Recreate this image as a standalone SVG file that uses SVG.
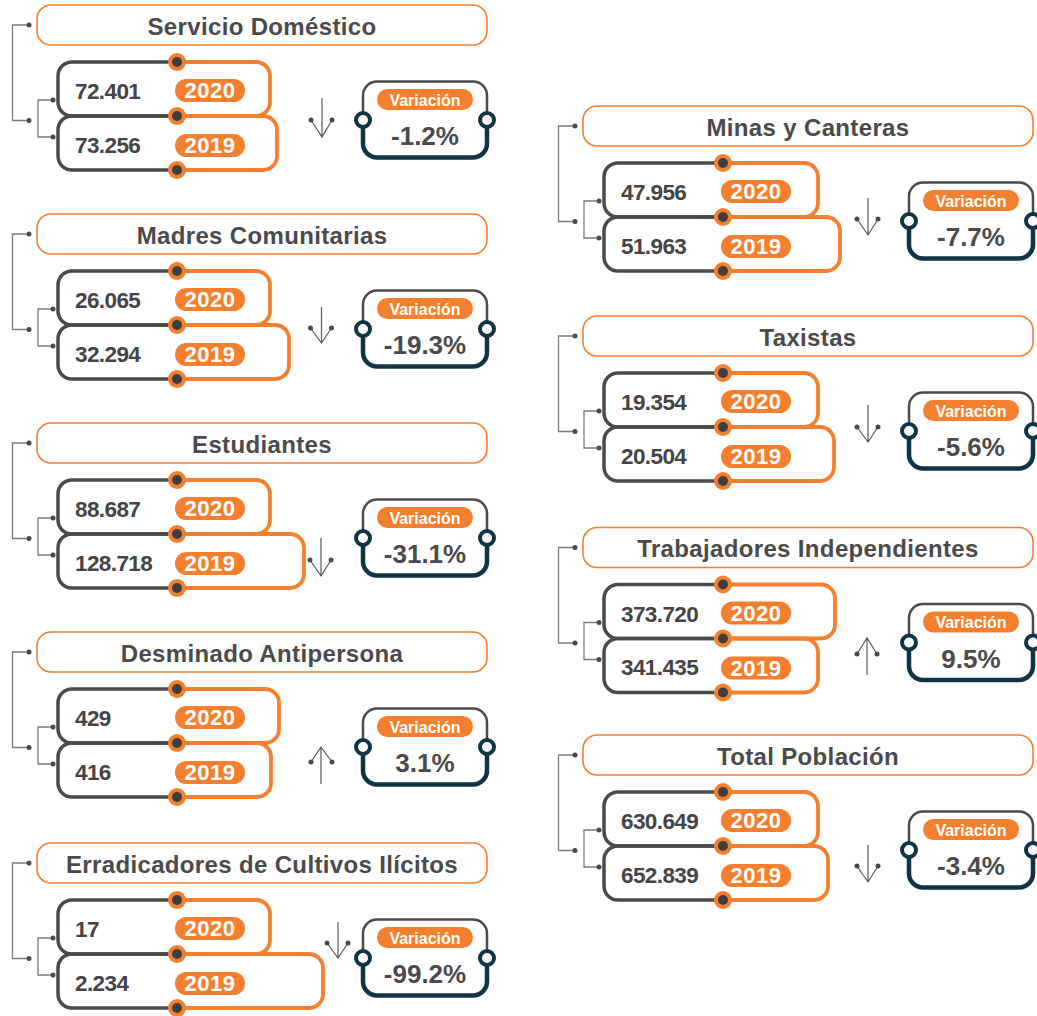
<svg xmlns="http://www.w3.org/2000/svg" width="1037" height="1016" viewBox="0 0 1037 1016">
<style>
.tbox{fill:#fff;stroke:#F4802F;stroke-width:1.6}
.ttl{font-family:"Liberation Sans",Arial,sans-serif;font-weight:bold;font-size:24px;fill:#4a4a4c;text-anchor:middle;letter-spacing:0.35px}
.gr{fill:none;stroke:#4a4a4c;stroke-width:3.5}
.or{fill:none;stroke:#F4802F;stroke-width:3.8}
.dO{fill:#F4802F}
.dD{fill:#3e3e40}
.num{font-family:"Liberation Sans",Arial,sans-serif;font-weight:bold;font-size:22.5px;fill:#444446;letter-spacing:-0.6px}
.pill{fill:#F4802F}
.yr{font-family:"Liberation Sans",Arial,sans-serif;font-weight:bold;font-size:22px;fill:#fff;text-anchor:middle;letter-spacing:0.5px}
.vtop{fill:none;stroke:#4a4a4c;stroke-width:2.5}
.vbot{fill:none;stroke:#0f3443;stroke-width:4.5}
.ring{fill:#fff;stroke:#0f3443;stroke-width:4}
.vl{font-family:"Liberation Sans",Arial,sans-serif;font-weight:bold;font-size:16px;fill:#fff;text-anchor:middle}
.pct{font-family:"Liberation Sans",Arial,sans-serif;font-weight:bold;font-size:26px;fill:#4a4a4c;text-anchor:middle}
.br{fill:none;stroke:#7a7a7a;stroke-width:1.3}
.bd{fill:#4a4a4c}
.ar{fill:none;stroke:#5a5a5a;stroke-width:1.2}
</style>
<defs>
<g id="yearbox">
<path class="gr" d="M177,57 H72 A14,14 0 0 0 58,71 V97 A14,14 0 0 0 72,111 H177"/>
<path class="gr" d="M177,111 H72 A14,14 0 0 0 58,125 V151 A14,14 0 0 0 72,165 H177"/>
</g>
<g id="dots">
<circle class="dO" cx="177" cy="57" r="9"/><circle class="dD" cx="177" cy="57" r="5"/>
<circle class="dO" cx="177" cy="111" r="9"/><circle class="dD" cx="177" cy="111" r="5"/>
<circle class="dO" cx="177" cy="165" r="9"/><circle class="dD" cx="177" cy="165" r="5"/>
<rect class="pill" x="175" y="74" width="70" height="23" rx="11.5"/>
<text class="yr" x="210" y="93">2020</text>
<rect class="pill" x="175" y="129" width="70" height="23" rx="11.5"/>
<text class="yr" x="210" y="148">2019</text>
</g>
<g id="varbox">
<path class="vtop" d="M363,115 V90.5 A14,14 0 0 1 377,76.5 H473 A14,14 0 0 1 487,90.5 V115"/>
<path class="vbot" d="M363,115 V138.5 A14,14 0 0 0 377,152.5 H473 A14,14 0 0 0 487,138.5 V115"/>
<circle class="ring" cx="363" cy="115" r="7"/>
<circle class="ring" cx="487" cy="115" r="7"/>
<rect class="pill" x="377" y="84" width="96" height="21" rx="10.5"/>
<text class="vl" x="425" y="100.5">Variación</text>
</g>
<g id="bracket">
<path class="br" d="M29,20 H12.5 V115.5 H29"/>
<path class="br" d="M53,95 H38 V132 H53"/>
<circle class="bd" cx="29" cy="20" r="2.5"/><circle class="bd" cx="29" cy="115.5" r="2.5"/>
<circle class="bd" cx="53" cy="95" r="2.5"/><circle class="bd" cx="53" cy="132" r="2.5"/>
</g>
</defs>

<g id="connectors">
<use href="#bracket" transform="translate(0,5)"/>
<use href="#bracket" transform="translate(0,214)"/>
<use href="#bracket" transform="translate(0,423)"/>
<use href="#bracket" transform="translate(0,632)"/>
<use href="#bracket" transform="translate(0,843)"/>
<use href="#bracket" transform="translate(546,106)"/>
<use href="#bracket" transform="translate(546,316)"/>
<use href="#bracket" transform="translate(546,527.5)"/>
<use href="#bracket" transform="translate(546,735)"/>
</g>

<g id="servicio-domestico" transform="translate(0,5)">
<rect class="tbox" x="37" y="0" width="450" height="40" rx="14"/>
<text class="ttl" x="262" y="29.5">Servicio Doméstico</text>
<use href="#yearbox"/>
<path class="or" d="M177,111 H263 A14,14 0 0 1 277,125 V151 A14,14 0 0 1 263,165 H177"/>
<path class="or" d="M177,57 H256 A14,14 0 0 1 270,71 V97 A14,14 0 0 1 256,111 H177"/>
<use href="#dots"/>
<text class="num" x="75" y="94">72.401</text>
<text class="num" x="75" y="147.5">73.256</text>
<path class="ar" d="M322,93 V132 M311,115 L322,132 L332,115"/>
<circle class="bd" cx="311" cy="115" r="2.5"/><circle class="bd" cx="332" cy="115" r="2.5"/>
<use href="#varbox"/>
<text class="pct" x="425" y="140">-1.2%</text>
</g>

<g id="madres-comunitarias" transform="translate(0,214)">
<rect class="tbox" x="37" y="0" width="450" height="40" rx="14"/>
<text class="ttl" x="262" y="29.5">Madres Comunitarias</text>
<use href="#yearbox"/>
<path class="or" d="M177,111 H275 A14,14 0 0 1 289,125 V151 A14,14 0 0 1 275,165 H177"/>
<path class="or" d="M177,57 H256 A14,14 0 0 1 270,71 V97 A14,14 0 0 1 256,111 H177"/>
<use href="#dots"/>
<text class="num" x="75" y="94">26.065</text>
<text class="num" x="75" y="147.5">32.294</text>
<path class="ar" d="M321.5,93 V129 M310.5,114 L321.5,129 L331.5,114"/>
<circle class="bd" cx="310.5" cy="114" r="2.5"/><circle class="bd" cx="331.5" cy="114" r="2.5"/>
<use href="#varbox"/>
<text class="pct" x="425" y="140">-19.3%</text>
</g>

<g id="estudiantes" transform="translate(0,423)">
<rect class="tbox" x="37" y="0" width="450" height="40" rx="14"/>
<text class="ttl" x="262" y="29.5">Estudiantes</text>
<use href="#yearbox"/>
<path class="or" d="M177,111 H290 A14,14 0 0 1 304,125 V151 A14,14 0 0 1 290,165 H177"/>
<path class="or" d="M177,57 H256 A14,14 0 0 1 270,71 V97 A14,14 0 0 1 256,111 H177"/>
<use href="#dots"/>
<text class="num" x="75" y="94">88.687</text>
<text class="num" x="75" y="147.5">128.718</text>
<path class="ar" d="M321,115 V153 M310,137 L321,153 L331,137"/>
<circle class="bd" cx="310" cy="137" r="2.5"/><circle class="bd" cx="331" cy="137" r="2.5"/>
<use href="#varbox"/>
<text class="pct" x="425" y="140">-31.1%</text>
</g>

<g id="desminado-antipersona" transform="translate(0,632)">
<rect class="tbox" x="37" y="0" width="450" height="40" rx="14"/>
<text class="ttl" x="262" y="29.5">Desminado Antipersona</text>
<use href="#yearbox"/>
<path class="or" d="M177,111 H257 A14,14 0 0 1 271,125 V151 A14,14 0 0 1 257,165 H177"/>
<path class="or" d="M177,57 H265 A14,14 0 0 1 279,71 V97 A14,14 0 0 1 265,111 H177"/>
<use href="#dots"/>
<text class="num" x="75" y="94">429</text>
<text class="num" x="75" y="147.5">416</text>
<path class="ar" d="M321,152 V115 M311,130 L321,115 L332,130"/>
<circle class="bd" cx="311" cy="130" r="2.5"/><circle class="bd" cx="332" cy="130" r="2.5"/>
<use href="#varbox"/>
<text class="pct" x="425" y="140">3.1%</text>
</g>

<g id="erradicadores" transform="translate(0,843)">
<rect class="tbox" x="37" y="0" width="450" height="40" rx="14"/>
<text class="ttl" x="262" y="29.5">Erradicadores de Cultivos Ilícitos</text>
<use href="#yearbox"/>
<path class="or" d="M177,111 H309 A14,14 0 0 1 323,125 V151 A14,14 0 0 1 309,165 H177"/>
<path class="or" d="M177,57 H256 A14,14 0 0 1 270,71 V97 A14,14 0 0 1 256,111 H177"/>
<use href="#dots"/>
<text class="num" x="75" y="94">17</text>
<text class="num" x="75" y="147.5">2.234</text>
<path class="ar" d="M338,79 V115 M327,100 L338,115 L348,100"/>
<circle class="bd" cx="327" cy="100" r="2.5"/><circle class="bd" cx="348" cy="100" r="2.5"/>
<use href="#varbox"/>
<text class="pct" x="425" y="140">-99.2%</text>
</g>

<g id="minas-canteras" transform="translate(546,106)">
<rect class="tbox" x="37" y="0" width="450" height="40" rx="14"/>
<text class="ttl" x="262" y="29.5">Minas y Canteras</text>
<use href="#yearbox"/>
<path class="or" d="M177,111 H280 A14,14 0 0 1 294,125 V151 A14,14 0 0 1 280,165 H177"/>
<path class="or" d="M177,57 H258 A14,14 0 0 1 272,71 V97 A14,14 0 0 1 258,111 H177"/>
<use href="#dots"/>
<text class="num" x="75" y="94">47.956</text>
<text class="num" x="75" y="147.5">51.963</text>
<path class="ar" d="M322,92 V129 M311,113 L322,129 L332,113"/>
<circle class="bd" cx="311" cy="113" r="2.5"/><circle class="bd" cx="332" cy="113" r="2.5"/>
<use href="#varbox"/>
<text class="pct" x="425" y="140">-7.7%</text>
</g>

<g id="taxistas" transform="translate(546,316)">
<rect class="tbox" x="37" y="0" width="450" height="40" rx="14"/>
<text class="ttl" x="262" y="29.5">Taxistas</text>
<use href="#yearbox"/>
<path class="or" d="M177,111 H274 A14,14 0 0 1 288,125 V151 A14,14 0 0 1 274,165 H177"/>
<path class="or" d="M177,57 H258 A14,14 0 0 1 272,71 V97 A14,14 0 0 1 258,111 H177"/>
<use href="#dots"/>
<text class="num" x="75" y="94">19.354</text>
<text class="num" x="75" y="147.5">20.504</text>
<path class="ar" d="M322,89 V126 M311,111 L322,126 L332,111"/>
<circle class="bd" cx="311" cy="111" r="2.5"/><circle class="bd" cx="332" cy="111" r="2.5"/>
<use href="#varbox"/>
<text class="pct" x="425" y="140">-5.6%</text>
</g>

<g id="trabajadores-independientes" transform="translate(546,527.5)">
<rect class="tbox" x="37" y="0" width="450" height="40" rx="14"/>
<text class="ttl" x="262" y="29.5">Trabajadores Independientes</text>
<use href="#yearbox"/>
<path class="or" d="M177,111 H258 A14,14 0 0 1 272,125 V151 A14,14 0 0 1 258,165 H177"/>
<path class="or" d="M177,57 H275 A14,14 0 0 1 289,71 V97 A14,14 0 0 1 275,111 H177"/>
<use href="#dots"/>
<text class="num" x="75" y="94">373.720</text>
<text class="num" x="75" y="147.5">341.435</text>
<path class="ar" d="M321,147.5 V110.5 M311,126.5 L321,110.5 L331,126.5"/>
<circle class="bd" cx="311" cy="126.5" r="2.5"/><circle class="bd" cx="331" cy="126.5" r="2.5"/>
<use href="#varbox"/>
<text class="pct" x="425" y="140">9.5%</text>
</g>

<g id="total-poblacion" transform="translate(546,735)">
<rect class="tbox" x="37" y="0" width="450" height="40" rx="14"/>
<text class="ttl" x="262" y="29.5">Total Población</text>
<use href="#yearbox"/>
<path class="or" d="M177,111 H268 A14,14 0 0 1 282,125 V151 A14,14 0 0 1 268,165 H177"/>
<path class="or" d="M177,57 H258 A14,14 0 0 1 272,71 V97 A14,14 0 0 1 258,111 H177"/>
<use href="#dots"/>
<text class="num" x="75" y="94">630.649</text>
<text class="num" x="75" y="147.5">652.839</text>
<path class="ar" d="M322,110 V147 M311,131 L322,147 L332,131"/>
<circle class="bd" cx="311" cy="131" r="2.5"/><circle class="bd" cx="332" cy="131" r="2.5"/>
<use href="#varbox"/>
<text class="pct" x="425" y="140">-3.4%</text>
</g>
</svg>
